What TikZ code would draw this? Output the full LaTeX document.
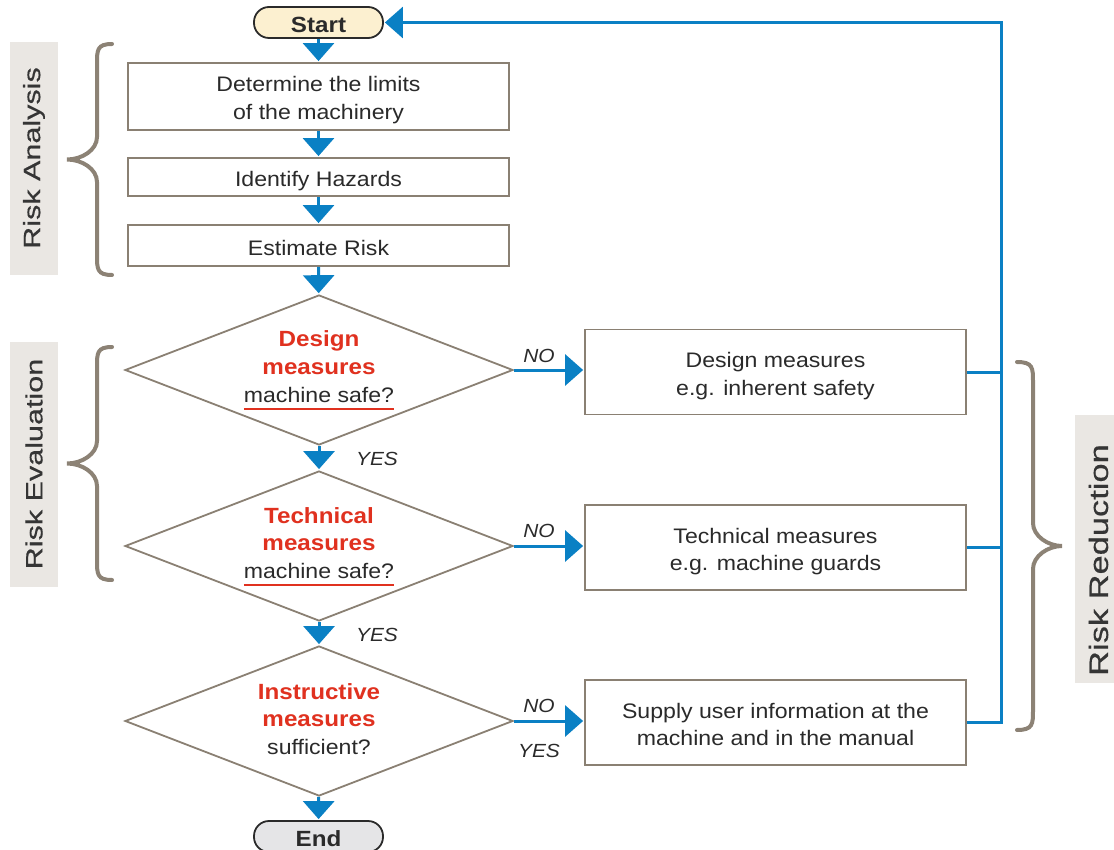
\documentclass[tikz,border=0pt]{standalone}
\usepackage{fontspec}
\setmainfont{Liberation Sans}[FakeStretch=1.1]
\newfontfamily\sidefont{Liberation Sans}[FakeStretch=1.3,FakeBold=0.5]
\usetikzlibrary{arrows.meta,shapes.geometric}
\definecolor{flowblue}{HTML}{0A80C4}
\definecolor{framegray}{HTML}{8A8073}
\definecolor{bracegray}{HTML}{8C8275}
\definecolor{accent}{HTML}{E0311F}
\definecolor{startfill}{HTML}{FCF0D0}
\definecolor{endfill}{HTML}{E5E5E7}
\definecolor{tabfill}{HTML}{EAE7E3}
\definecolor{inkgray}{HTML}{2A2A2A}
\definecolor{tabink}{HTML}{353535}
\newlength\ulwidth
\newcommand\safeline[1]{\settowidth\ulwidth{#1}\rlap{\textcolor{accent}{\rule[-8pt]{\ulwidth}{2.2pt}}}#1}
\newcommand\bodysize{\fontsize{21}{27.5}\selectfont}
\newcommand\headsize{\fontsize{22}{27.5}\selectfont\bfseries}
\newcommand\red[1]{\textcolor{accent}{\headsize #1}}
% struts that fix the vertical extent of the labels
\newcommand\boxstrut{\rule[-5pt]{0pt}{30pt}}
\newcommand\firstline{\rule{0pt}{23.5pt}}
\newcommand\topstrut{\rule{0pt}{24pt}}
\newcommand\botstrut{\rule[-8pt]{0pt}{0pt}}

\begin{document}
\begin{tikzpicture}[x=1pt,y=-1pt,
  every node/.style={inner sep=0pt, text=inkgray, font=\bodysize},
  stepbox/.style={draw=framegray, line width=1.8pt, fill=white,
    minimum width=381pt, align=center, execute at begin node=\boxstrut},
  decision/.style={diamond, draw=framegray, line width=1.8pt, fill=white,
    minimum width=388pt, minimum height=150pt},
  question/.style={align=center, execute at end node=\botstrut},
  terminal/.style={rounded corners=15pt, draw=inkgray, line width=1.8pt,
    minimum width=129pt, minimum height=31pt, font=\headsize,
    execute at begin node=\boxstrut},
  flow/.style={draw=flowblue, line width=3pt, shorten >=1pt,
    -{Triangle[width=31pt,length=18pt]}},
  loopline/.style={draw=flowblue, line width=3pt},
  answer/.style={font=\fontsize{19}{22}\selectfont\itshape},
  tab/.style={fill=tabfill},
  tabtext/.style={rotate=90, text=tabink,
    font=\sidefont\fontsize{23.5}{26}\selectfont},
  curly/.style={draw=bracegray, line width=4pt, line cap=round}]
\useasboundingbox (0,0) rectangle (1114,850);

% side tabs
\node[tab, minimum width=48pt, minimum height=233pt] (tabA) at (34,158.5) {};
\node[tabtext] (labA) at (34,158) {Risk Analysis};
\node[tab, minimum width=48pt, minimum height=245pt] (tabE) at (34,464.5) {};
\node[tabtext] (labE) at (34,464) {Risk Evaluation};
\node[tab, minimum width=47pt, minimum height=268pt] (tabR) at (1098.5,549) {};
\node[tabtext, font=\sidefont\fontsize{26.5}{28}\selectfont] (labR) at (1098.5,560) {Risk Reduction};

% braces
\draw[curly] (112,44) .. controls (97,44) and (97,50) .. (97,64) -- (97,137)
  .. controls (97,150) and (82,159.5) .. (67,159.5)
  .. controls (82,159.5) and (97,169) .. (97,182) -- (97,255)
  .. controls (97,269) and (97,275) .. (112,275);
\draw[curly] (112,347) .. controls (97,347) and (97,353) .. (97,367) -- (97,441)
  .. controls (97,454) and (82,463.5) .. (67,463.5)
  .. controls (82,463.5) and (97,473) .. (97,486) -- (97,560)
  .. controls (97,574) and (97,580) .. (112,580);
\draw[curly] (1017,362) .. controls (1033,362) and (1033,368) .. (1033,382) -- (1033,523)
  .. controls (1033,536) and (1048,546) .. (1062,546)
  .. controls (1048,546) and (1033,556) .. (1033,569) -- (1033,710)
  .. controls (1033,724) and (1033,730) .. (1017,730);

% terminals
\node[terminal, fill=startfill] (start) at (318.5,22.5) {Start};
\node[terminal, fill=endfill] (end) at (318.5,836.5) {End};

% analysis steps
\node[stepbox, minimum height=67pt] (limits) at (318.5,96.5)
  {\firstline Determine the limits\\of the machinery};
\node[stepbox, minimum height=38pt] (hazards) at (318.5,177) {Identify Hazards};
\node[stepbox, minimum height=41pt] (estimate) at (318.5,245.5) {Estimate Risk};

% decisions
\node[decision] (design) at (319,370) {};
\node[decision] (technical) at (319,546) {};
\node[decision] (instructive) at (319,721) {};
\node[question] (qdesign) at (319,366.5)
  {\topstrut\red{Design}\\\red{measures}\\\safeline{machine safe?}};
\node[question] (qtechnical) at (319,542.5)
  {\topstrut\red{Technical}\\\red{measures}\\\safeline{machine safe?}};
\node[question] (qinstructive) at (319,718.5)
  {\topstrut\red{Instructive}\\\red{measures}\\sufficient?};

% reduction measures
\node[stepbox, minimum height=85pt] (mdesign) at (775.5,372)
  {\firstline Design measures\\e.g. inherent safety};
\node[stepbox, minimum height=85pt] (mtech) at (775.5,547.5)
  {\firstline Technical measures\\e.g. machine guards};
\node[stepbox, minimum height=85pt] (minfo) at (775.5,722.5)
  {\firstline Supply user information at the\\machine and in the manual};

% main flow
\draw[flow] (start) -- (limits);
\draw[flow] (limits) -- (hazards);
\draw[flow] (hazards) -- (estimate);
\draw[flow] (estimate) -- (design);
\draw[flow] (design) -- (technical);
\draw[flow] (technical) -- (instructive);
\draw[flow] (instructive) -- (end);

% NO branches
\draw[flow] (design.east) -- (design.east -| mdesign.west);
\draw[flow] (technical.east) -- (technical.east -| mtech.west);
\draw[flow] (instructive.east) -- (instructive.east -| minfo.west);

% answers
\node[answer] (no1) at (539,356) {NO};
\node[answer] (yes1) at (377,459) {YES};
\node[answer] (no2) at (539,531) {NO};
\node[answer] (yes2) at (377,635) {YES};
\node[answer] (no3) at (539,706) {NO};
\node[answer] (yes3) at (539,751) {YES};

% loop back to start
\coordinate (corner) at (1001,22.5);
\draw[loopline] (mdesign.east) -- (mdesign.east -| corner);
\draw[loopline] (mtech.east) -- (mtech.east -| corner);
\draw[flow] (minfo.east) -- (minfo.east -| corner) -- (corner) -- (start.east);
\end{tikzpicture}
\end{document}
